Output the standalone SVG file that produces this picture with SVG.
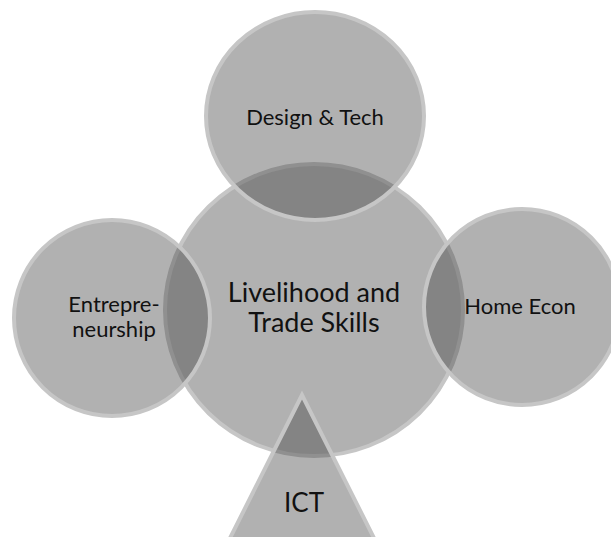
<svg xmlns="http://www.w3.org/2000/svg" width="611" height="537" viewBox="0 0 611 537">
<style>
.shape{fill:#464646;fill-opacity:0.42;stroke:#c6c6c6;stroke-width:4}
.lbl{font-family:Lato,"Liberation Sans",sans-serif;fill:#111111;text-anchor:middle}
.sm{font-size:22px}
.lg{font-size:27px}
</style>
<rect width="611" height="537" fill="#ffffff"/>
<g id="center">
<ellipse class="shape" cx="314" cy="310" rx="149" ry="146"/>
<text class="lbl lg" x="314" y="302">Livelihood and</text>
<text class="lbl lg" x="314" y="332">Trade Skills</text>
</g>
<g id="design-tech">
<ellipse class="shape" cx="315" cy="116" rx="109" ry="104"/>
<text class="lbl sm" x="315" y="125">Design &amp; Tech</text>
</g>
<g id="entrepreneurship">
<circle class="shape" cx="112" cy="318" r="98"/>
<text class="lbl sm" x="114" y="312">Entrepre-</text>
<text class="lbl sm" x="114" y="337">neurship</text>
</g>
<g id="home-econ">
<circle class="shape" cx="522" cy="307" r="98"/>
<text class="lbl sm" x="520" y="314">Home Econ</text>
</g>
<g id="ict">
<polygon class="shape" points="302,395 219,560 385,560"/>
<text class="lbl" style="font-size:26px" x="304" y="512">ICT</text>
</g>
<g id="connectors"></g>
</svg>
